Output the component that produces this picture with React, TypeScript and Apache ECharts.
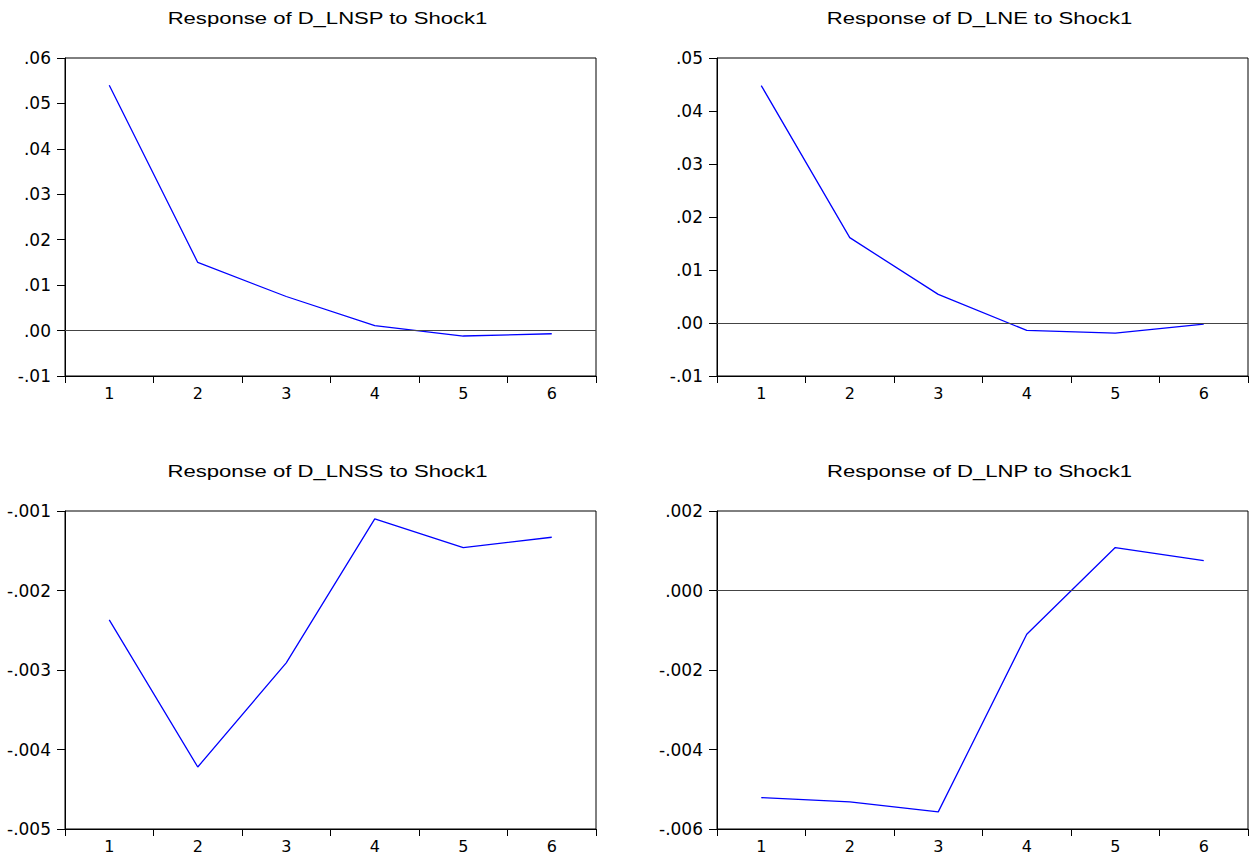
import React, { useEffect, useRef } from "react";
import * as echarts from "echarts";

const periods = ["1", "2", "3", "4", "5", "6"];

const titles = [
  "Response of D_LNSP to Shock1",
  "Response of D_LNE to Shock1",
  "Response of D_LNSS to Shock1",
  "Response of D_LNP to Shock1",
];

const lnspResp = [0.054, 0.015, 0.0075, 0.0011, -0.0012, -0.0007];
const lneResp = [0.0448, 0.0161, 0.0054, -0.0014, -0.0019, -0.0002];
const lnssResp = [-0.00237, -0.00422, -0.00291, -0.0011, -0.00146, -0.00133];
const lnpResp = [-0.00521, -0.00532, -0.00557, -0.0011, 0.00108, 0.00075];

const yMins = [-0.01, -0.01, -0.005, -0.006];
const yMaxs = [0.06, 0.05, -0.001, 0.002];
const yIntervals = [0.01, 0.01, 0.001, 0.002];
const yDecimals = [2, 2, 3, 3];
const zeroLine = [true, true, false, true];

export default function App() {
  const ref = useRef<HTMLDivElement>(null);

  useEffect(() => {
    if (!ref.current) return;
    const chart = echarts.init(ref.current, null, { renderer: "svg" });
    const seriesData = [lnspResp, lneResp, lnssResp, lnpResp];
    const grids = [
      { left: 65, top: 58, width: 531, height: 318 },
      { left: 717, top: 58, width: 531, height: 318 },
      { left: 65, top: 511, width: 531, height: 318 },
      { left: 717, top: 511, width: 531, height: 318 },
    ];
    const fmt = (d: number) => (v: number) => {
      const x = Math.abs(v) < 1e-12 ? 0 : v;
      return x.toFixed(d).replace(/^(-?)0\./, "$1.");
    };
    const labelFont = "'DejaVu Sans', 'Liberation Sans', Arial, sans-serif";
    chart.setOption({
      animation: false,
      backgroundColor: "#fff",
      grid: grids.map((g) => ({
        ...g,
        show: true,
        borderColor: "#000",
        borderWidth: 1,
        backgroundColor: "transparent",
      })),
      xAxis: grids.map((_, i) => ({
        type: "category",
        gridIndex: i,
        data: periods,
        boundaryGap: true,
        axisLine: { show: true, onZero: false, lineStyle: { color: "#000", width: 1 } },
        axisTick: { show: true, length: 7, lineStyle: { color: "#000" } },
        axisLabel: {
          margin: 9,
          color: "#000",
          fontSize: 16,
          fontFamily: labelFont,
        },
        splitLine: { show: false },
      })),
      yAxis: grids.map((_, i) => ({
        type: "value",
        gridIndex: i,
        min: yMins[i],
        max: yMaxs[i],
        interval: yIntervals[i],
        axisLine: { show: true, lineStyle: { color: "#000", width: 1 } },
        axisTick: { show: true, length: 8, lineStyle: { color: "#000" } },
        axisLabel: {
          margin: 14,
          color: "#000",
          fontSize: 17,
          fontFamily: labelFont,
          formatter: fmt(yDecimals[i]),
        },
        splitLine: { show: false },
      })),
      series: seriesData.map((d, i) => ({
        type: "line",
        xAxisIndex: i,
        yAxisIndex: i,
        data: d,
        showSymbol: false,
        symbol: "none",
        lineStyle: { color: "#0000ff", width: 1.3 },
        itemStyle: { color: "#0000ff" },
        silent: true,
        markLine: zeroLine[i]
          ? {
              silent: true,
              symbol: "none",
              label: { show: false },
              lineStyle: { color: "#444", width: 1, type: "solid" },
              data: [{ yAxis: 0 }],
            }
          : undefined,
      })),
      graphic: titles.map((t, i) => ({
        type: "text",
        x: grids[i].left + grids[i].width / 2 - 3,
        y: grids[i].top - 39,
        scaleX: 1.38,
        silent: true,
        style: {
          text: t,
          fill: "#000",
          fontSize: 16,
          fontFamily: "'Liberation Sans', Arial, sans-serif",
          textAlign: "center",
          textVerticalAlign: "middle",
        },
      })),
    });
    return () => chart.dispose();
  }, []);

  return (
    <div
      ref={ref}
      style={{ position: "absolute", left: 0, top: 0, width: 1249, height: 859 }}
    />
  );
}
